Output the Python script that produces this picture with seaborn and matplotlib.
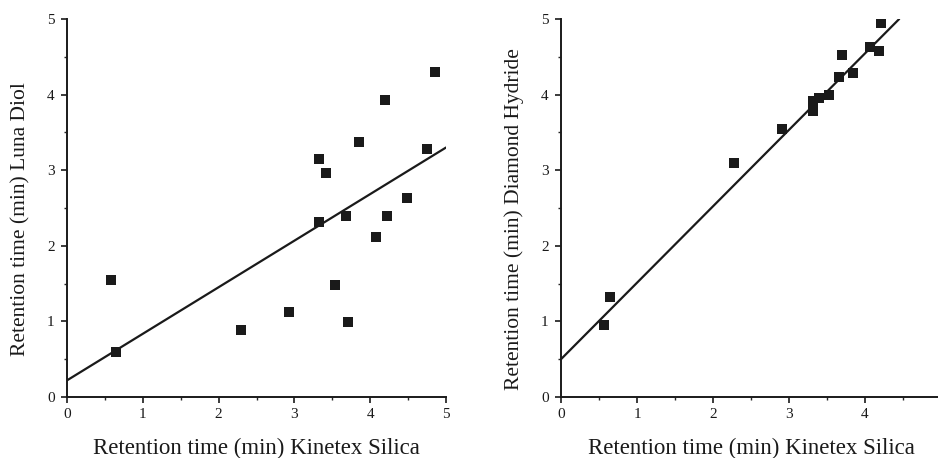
import matplotlib
matplotlib.use("Agg")
import matplotlib.pyplot as plt
import seaborn as sns
import pandas as pd
from matplotlib.ticker import MultipleLocator

# Left panel: Kinetex Silica vs Luna Diol
kinetex_left = [0.58, 0.65, 2.29, 2.93, 3.32, 3.33, 3.42, 3.54, 3.68, 3.71, 3.85, 4.08, 4.20, 4.22, 4.49, 4.75, 4.85]
luna_diol = [1.55, 0.59, 0.88, 1.12, 3.15, 2.32, 2.96, 1.48, 2.39, 0.99, 3.37, 2.12, 3.93, 2.39, 2.63, 3.28, 4.30]
fit_left_x = [0.0, 5.0]
fit_left_y = [0.22, 3.30]

# Right panel: Kinetex Silica vs Diamond Hydride
kinetex_right = [0.57, 0.64, 2.28, 2.91, 3.31, 3.31, 3.40, 3.52, 3.66, 3.70, 3.84, 4.06, 4.18, 4.21]
diamond_hydride = [0.95, 1.32, 3.10, 3.55, 3.92, 3.78, 3.95, 4.00, 4.23, 4.52, 4.28, 4.63, 4.58, 4.95]
fit_right_x = [0.0, 4.45]
fit_right_y = [0.50, 5.00]

xlabel = "Retention time (min) Kinetex Silica"
ylabels = ["Retention time (min) Luna Diol", "Retention time (min) Diamond Hydride"]

sns.set_style("ticks")
plt.rcParams['font.family'] = ['Liberation Serif', 'DejaVu Serif']

fig = plt.figure(figsize=(9.38, 4.58), dpi=100)
ax1 = fig.add_axes([67/938, 61/458, 379/938, 378/458])
ax2 = fig.add_axes([561/938, 61/458, 380/938, 378/458])

panels = [
    (ax1, kinetex_left, luna_diol, fit_left_x, fit_left_y, ylabels[0]),
    (ax2, kinetex_right, diamond_hydride, fit_right_x, fit_right_y, ylabels[1]),
]
ink = "#1a1a1a"
for ax, x, y, fx, fy, yl in panels:
    df = pd.DataFrame({"x": x, "y": y})
    fdf = pd.DataFrame({"x": fx, "y": fy})
    sns.lineplot(data=fdf, x="x", y="y", ax=ax, color=ink, linewidth=1.6, zorder=2)
    sns.scatterplot(data=df, x="x", y="y", ax=ax, marker="s", s=42, color=ink,
                    edgecolor=ink, linewidth=0, zorder=3)
    ax.set_xlim(0, 5)
    ax.set_ylim(0, 5)
    ax.xaxis.set_major_locator(MultipleLocator(1))
    ax.yaxis.set_major_locator(MultipleLocator(1))
    ax.xaxis.set_minor_locator(MultipleLocator(0.5))
    ax.yaxis.set_minor_locator(MultipleLocator(0.5))
    ax.tick_params(which="major", direction="out", length=4, width=1.2, labelsize=11,
                   colors=ink)
    ax.tick_params(axis="x", which="major", pad=4)
    ax.tick_params(axis="y", which="major", pad=5)
    ax.tick_params(which="minor", direction="out", length=2.5, width=1.0)
    for s in ["top", "right"]:
        ax.spines[s].set_visible(False)
    for s in ["left", "bottom"]:
        ax.spines[s].set_linewidth(1.4)
        ax.spines[s].set_color(ink)
    ax.set_xlabel(xlabel, fontsize=16.5, color=ink, labelpad=12)
    ax.set_ylabel(yl, fontsize=15.5, color=ink)

ax1.yaxis.set_label_coords(-0.097, 0.47)
ax2.yaxis.set_label_coords(-0.097, 0.47)

fig.savefig("out.png", dpi=100)
